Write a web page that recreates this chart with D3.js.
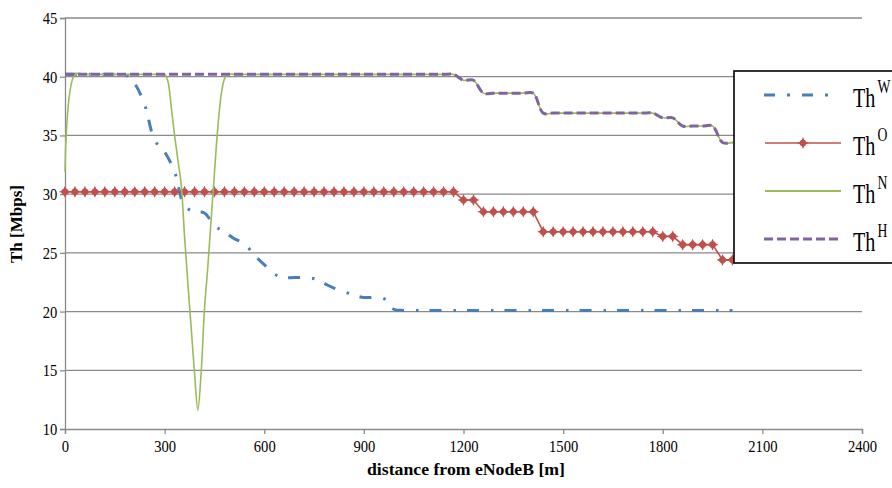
<!DOCTYPE html>
<html>
<head>
<meta charset="utf-8">
<script src="https://cdn.jsdelivr.net/npm/d3@7"></script>
<style>
  body { margin: 0; background: #fff; }
  svg { display: block; }
  svg text { font-family: "Liberation Serif", "DejaVu Serif", serif; fill: #000; }
</style>
</head>
<body>
<svg id="chart" width="892" height="488"></svg>
<script>
// Distance from the eNodeB [m]
const distance = [0,30,60,90,120,150,180,210,240,270,300,330,360,390,420,450,480,510,540,570,
  600,630,660,690,720,750,780,810,840,870,900,930,960,990,1020,1050,1080,1110,1140,1170,
  1200,1230,1260,1290,1320,1350,1380,1410,1440,1470,1500,1530,1560,1590,1620,1650,1680,1710,1740,1770,
  1800,1830,1860,1890,1920,1950,1980,2010];

// Throughput [Mbps] of each scheme
const thW = [40.2,40.2,40.2,40.2,40.2,40.2,40.2,39.4,37.6,34.6,33.6,31.9,29.0,28.5,28.4,27.3,26.8,26.2,25.8,24.8,
  24.0,23.2,22.9,22.9,22.9,22.8,22.4,22.0,21.7,21.4,21.2,21.2,21.1,20.2,20.1,20.1,20.1,20.1,20.1,20.1,
  20.1,20.1,20.1,20.1,20.1,20.1,20.1,20.1,20.1,20.1,20.1,20.1,20.1,20.1,20.1,20.1,20.1,20.1,20.1,20.1,
  20.1,20.1,20.1,20.1,20.1,20.1,20.1,20.1];
const thO = [30.2,30.2,30.2,30.2,30.2,30.2,30.2,30.2,30.2,30.2,30.2,30.2,30.2,30.2,30.2,30.2,30.2,30.2,30.2,30.2,
  30.2,30.2,30.2,30.2,30.2,30.2,30.2,30.2,30.2,30.2,30.2,30.2,30.2,30.2,30.2,30.2,30.2,30.2,30.2,30.2,
  29.5,29.5,28.5,28.5,28.5,28.5,28.5,28.5,26.8,26.8,26.8,26.8,26.8,26.8,26.8,26.8,26.8,26.8,26.8,26.8,
  26.4,26.4,25.7,25.7,25.7,25.7,24.4,24.4];
const thH = [40.2,40.2,40.2,40.2,40.2,40.2,40.2,40.2,40.2,40.2,40.2,40.2,40.2,40.2,40.2,40.2,40.2,40.2,40.2,40.2,
  40.2,40.2,40.2,40.2,40.2,40.2,40.2,40.2,40.2,40.2,40.2,40.2,40.2,40.2,40.2,40.2,40.2,40.2,40.2,40.2,
  39.7,39.7,38.6,38.6,38.6,38.6,38.6,38.6,36.9,36.9,36.9,36.9,36.9,36.9,36.9,36.9,36.9,36.9,36.9,36.9,
  36.5,36.5,35.8,35.8,35.8,35.8,34.4,34.4];

// Th^N is sampled more finely around the coverage hole near 400 m
const distanceN = [0,30,60,90,120,150,180,210,240,270,300,310,320,330,340,350,360,370,380,390,
  400,410,420,430,440,450,460,470,480,490,510,540,570,600,630,660,690,720,750,780,
  810,840,870,900,930,960,990,1020,1050,1080,1110,1140,1170,1200,1230,1260,1290,1320,1350,1380,
  1410,1440,1470,1500,1530,1560,1590,1620,1650,1680,1710,1740,1770,1800,1830,1860,1890,1920,1950,1980,2010];
const thN = [31.9,40.2,40.2,40.2,40.2,40.2,40.2,40.2,40.2,40.2,40.2,39.6,37.4,35.0,32.9,30.8,26.4,22.4,18.6,14.8,
  11.6,14.8,20.2,23.8,27.8,31.8,35.6,38.4,39.8,40.2,40.2,40.2,40.2,40.2,40.2,40.2,40.2,40.2,40.2,40.2,
  40.2,40.2,40.2,40.2,40.2,40.2,40.2,40.2,40.2,40.2,40.2,40.2,40.2,39.7,39.7,38.6,38.6,38.6,38.6,38.6,
  38.6,36.9,36.9,36.9,36.9,36.9,36.9,36.9,36.9,36.9,36.9,36.9,36.9,36.5,36.5,35.8,35.8,35.8,35.8,34.4,34.4];

const yTicks = [10,15,20,25,30,35,40,45];
const xTicks = [0,300,600,900,1200,1500,1800,2100,2400];

const legendKeys = [
  {base: "Th", sup: "W", key: "W"},
  {base: "Th", sup: "O", key: "O"},
  {base: "Th", sup: "N", key: "N"},
  {base: "Th", sup: "H", key: "H"}
];

const colors = {W: "#4a7ebb", O: "#c0504d", N: "#9bbb59", H: "#8064a2"};
const gridColor = "#8a8a8a";
const SERIF = '"Liberation Serif", "DejaVu Serif", serif';

const svg = d3.select("#chart");
const x = d3.scaleLinear().domain([0, 2400]).range([65, 862]);
const y = d3.scaleLinear().domain([10, 45]).range([429, 18]);

// horizontal gridlines
svg.append("g").selectAll("line").data(yTicks.slice(1)).join("line")
  .attr("x1", x(0)).attr("x2", x(2400))
  .attr("y1", d => y(d)).attr("y2", d => y(d))
  .attr("stroke", gridColor).attr("stroke-width", 1.3);

// axes
const TICK_SX = 0.86;
const yAxis = svg.append("g").attr("transform", `translate(${x(0)},0)`)
  .call(d3.axisLeft(y).tickValues(yTicks).tickSize(5).tickPadding(4).tickFormat(d3.format("d")));
const xAxis = svg.append("g").attr("transform", `translate(0,${y(10)})`)
  .call(d3.axisBottom(x).tickValues(xTicks).tickSize(5).tickPadding(6).tickFormat(d3.format("d")));
[yAxis, xAxis].forEach(a => {
  a.attr("font-family", null);
  a.select(".domain").attr("stroke", gridColor).attr("stroke-width", 1.3);
  a.selectAll(".tick line").attr("stroke", gridColor).attr("stroke-width", 1.3);
  a.selectAll(".tick text").style("font-family", SERIF).style("font-size", "17px")
    .attr("fill", "#000").attr("transform", `scale(${TICK_SX},1)`);
});

// series
const smooth = d3.curveCatmullRom.alpha(0.5);
const lineOf = (xs, ys, curve) => d3.line().x((d, i) => x(xs[i])).y(d => y(d)).curve(curve)(ys);

svg.append("path").attr("d", lineOf(distance, thW, smooth))
  .attr("fill", "none").attr("stroke", colors.W).attr("stroke-width", 3)
  .attr("stroke-dasharray", "12,12,2.5,11");

svg.append("path").attr("d", lineOf(distance, thO, d3.curveLinear))
  .attr("fill", "none").attr("stroke", colors.O).attr("stroke-width", 1.6);

// four-pointed star marker for Th^O
const starPath = (() => {
  const R = 6, r = 2.6, pts = [];
  for (let k = 0; k < 8; k++) {
    const a = k * Math.PI / 4 - Math.PI / 2;
    const rad = k % 2 === 0 ? R : r;
    pts.push([rad * Math.cos(a), rad * Math.sin(a)]);
  }
  return "M" + pts.map(p => p.map(v => v.toFixed(2)).join(",")).join("L") + "Z";
})();
svg.append("g").selectAll("g").data(thO).join("g")
  .attr("transform", (d, i) => `translate(${x(distance[i])},${y(d)})`)
  .call(g => {
    g.append("path").attr("d", starPath).attr("fill", colors.O);
    g.append("circle").attr("r", 3.3).attr("fill", colors.O);
  });

svg.append("path").attr("d", lineOf(distanceN, thN, smooth))
  .attr("fill", "none").attr("stroke", colors.N).attr("stroke-width", 1.6);

svg.append("path").attr("d", lineOf(distance, thH, smooth))
  .attr("fill", "none").attr("stroke", colors.H).attr("stroke-width", 3)
  .attr("stroke-dasharray", "9,4");

// axis titles
svg.append("text").attr("x", 466).attr("y", 475).attr("text-anchor", "middle")
  .style("font-family", SERIF).style("font-size", "17px").style("font-weight", "bold")
  .attr("textLength", 198).attr("lengthAdjust", "spacingAndGlyphs")
  .text("distance from eNodeB [m]");
svg.append("text").attr("transform", "translate(22,224) rotate(-90)").attr("text-anchor", "middle")
  .style("font-family", SERIF).style("font-size", "17px").style("font-weight", "bold")
  .attr("textLength", 78).attr("lengthAdjust", "spacingAndGlyphs")
  .text("Th [Mbps]");

// legend
const lg = svg.append("g");
lg.append("rect").attr("x", 734).attr("y", 71).attr("width", 170).attr("height", 192)
  .attr("fill", "#fff").attr("stroke", "#000").attr("stroke-width", 1.6);
const rowY = d3.scalePoint().domain(legendKeys.map(d => d.key)).range([95, 239]);
legendKeys.forEach(k => {
  const yy = rowY(k.key);
  const ln = lg.append("line").attr("x1", 765).attr("x2", 841).attr("y1", yy).attr("y2", yy)
    .attr("stroke", colors[k.key]);
  if (k.key === "W") ln.attr("stroke-width", 3).attr("stroke-dasharray", "11,12,3,12").attr("x1", 764).attr("x2", 829);
  if (k.key === "O") {
    ln.attr("stroke-width", 1.6);
    lg.append("path").attr("d", starPath).attr("fill", colors.O).attr("transform", `translate(803,${yy})`);
    lg.append("circle").attr("cx", 803).attr("cy", yy).attr("r", 3.3).attr("fill", colors.O);
  }
  if (k.key === "N") ln.attr("stroke-width", 1.8);
  if (k.key === "H") ln.attr("stroke-width", 3).attr("stroke-dasharray", "9,4").attr("x1", 764);
  const t = lg.append("g").attr("transform", `translate(853,${yy + 12}) scale(0.72,1)`);
  t.append("text").style("font-family", SERIF).style("font-size", "28px").text(k.base);
  t.append("text").attr("x", 34).attr("y", -14).style("font-family", SERIF).style("font-size", "19px").text(k.sup);
});
</script>
</body>
</html>
